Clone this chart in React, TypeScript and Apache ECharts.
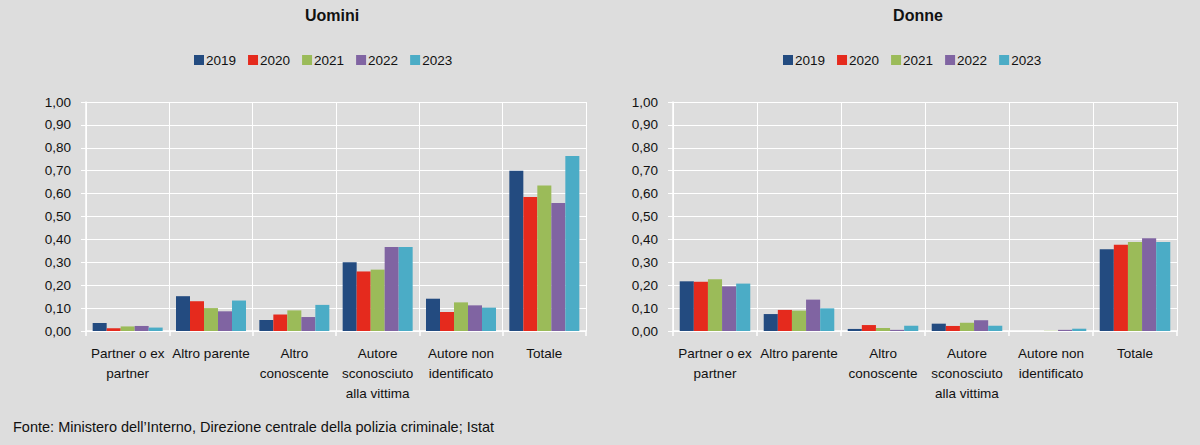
import React, { useEffect, useRef } from "react";
import * as echarts from "echarts";

const categories = [
  "Partner o ex\npartner",
  "Altro parente",
  "Altro\nconoscente",
  "Autore\nsconosciuto\nalla vittima",
  "Autore non\nidentificato",
  "Totale",
];
const years = ["2019", "2020", "2021", "2022", "2023"];
const colors = ["#234b80", "#e52a1d", "#9bbb59", "#8064a2", "#4bacc6"];
const yTicks = ["0,00", "0,10", "0,20", "0,30", "0,40", "0,50", "0,60", "0,70", "0,80", "0,90", "1,00"];

// Uomini
const men2019 = [0.035, 0.152, 0.048, 0.3, 0.141, 0.7];
const men2020 = [0.012, 0.13, 0.072, 0.26, 0.083, 0.585];
const men2021 = [0.02, 0.1, 0.09, 0.268, 0.125, 0.635];
const men2022 = [0.022, 0.086, 0.061, 0.367, 0.112, 0.559];
const men2023 = [0.015, 0.133, 0.114, 0.367, 0.102, 0.764];

// Donne
const women2019 = [0.217, 0.074, 0.009, 0.032, 0.0, 0.357];
const women2020 = [0.215, 0.092, 0.026, 0.022, 0.0, 0.377];
const women2021 = [0.226, 0.089, 0.013, 0.036, 0.001, 0.389];
const women2022 = [0.195, 0.137, 0.005, 0.047, 0.005, 0.405];
const women2023 = [0.207, 0.099, 0.023, 0.023, 0.01, 0.389];

const menSeries = [men2019, men2020, men2021, men2022, men2023];
const womenSeries = [women2019, women2020, women2021, women2022, women2023];

const FONT = "'Liberation Sans', Arial, sans-serif";
const TXT = "#111111";
const BG = "#dddddd";

export default function App() {
  const ref = useRef<HTMLDivElement>(null);
  useEffect(() => {
    document.body.style.margin = "0";
    if (!ref.current) return;
    const chart = echarts.init(ref.current, undefined, { renderer: "svg" });

    const xAxis = (i: number) => ({
      type: "category",
      gridIndex: i,
      data: categories,
      axisLine: { show: true, lineStyle: { color: "#ffffff", width: 1.5 } },
      axisTick: { show: true, length: 5, lineStyle: { color: "#ffffff", width: 1.5 } },
      splitLine: { show: true, lineStyle: { color: "#ffffff", width: 1 } },
      axisLabel: {
        interval: 0,
        margin: 13,
        fontSize: 13.5,
        lineHeight: 19.7,
        color: TXT,
        fontFamily: FONT,
        align: "center",
        verticalAlign: "top",
      },
    });
    const yAxis = (i: number) => ({
      type: "value",
      gridIndex: i,
      min: 0,
      max: 1,
      interval: 0.1,
      axisLine: { show: true, lineStyle: { color: "#ffffff", width: 1.5 } },
      axisTick: { show: true, length: 5, lineStyle: { color: "#ffffff", width: 1 } },
      splitLine: { show: true, lineStyle: { color: "#ffffff", width: 1 } },
      axisLabel: {
        margin: 15,
        fontSize: 13.5,
        color: TXT,
        fontFamily: FONT,
        formatter: (v: number) => yTicks[Math.round(v * 10)],
      },
    });

    const mkSeries = (arr: number[][], gi: number) =>
      arr.map((d, k) => ({
        type: "bar",
        name: years[k],
        xAxisIndex: gi,
        yAxisIndex: gi,
        data: d,
        barGap: "0%",
        barCategoryGap: "16%",
        itemStyle: { color: colors[k] },
      }));

    const legend = (left: number) => ({
      left,
      top: 48,
      itemWidth: 10,
      itemHeight: 10,
      itemGap: 12,
      icon: "rect",
      data: years,
      selectedMode: false,
      textStyle: { fontSize: 13.5, color: TXT, fontFamily: FONT, padding: [0, 0, 0, -3] },
    });

    chart.setOption({
      animation: false,
      backgroundColor: BG,
      color: colors,
      title: [
        {
          text: "Uomini",
          left: 327,
          top: 2,
          textAlign: "center",
          textStyle: { fontSize: 16, fontWeight: "bold", color: TXT, fontFamily: FONT },
        },
        {
          text: "Donne",
          left: 913,
          top: 2,
          textAlign: "center",
          textStyle: { fontSize: 16, fontWeight: "bold", color: TXT, fontFamily: FONT },
        },
      ],
      legend: [legend(189), legend(778)],
      grid: [
        { left: 86, top: 102, width: 500, height: 229, containLabel: false },
        { left: 673, top: 102, width: 504, height: 229, containLabel: false },
      ],
      xAxis: [xAxis(0), xAxis(1)],
      yAxis: [yAxis(0), yAxis(1)],
      series: [...mkSeries(menSeries, 0), ...mkSeries(womenSeries, 1)],
      graphic: [
        {
          type: "text",
          left: 13,
          top: 419,
          style: {
            text: "Fonte: Ministero dell’Interno, Direzione centrale della polizia criminale; Istat",
            fontSize: 14.5,
            fill: TXT,
            fontFamily: FONT,
          },
        },
      ],
    });
    return () => chart.dispose();
  }, []);
  return <div ref={ref} style={{ width: 1200, height: 445 }} />;
}
